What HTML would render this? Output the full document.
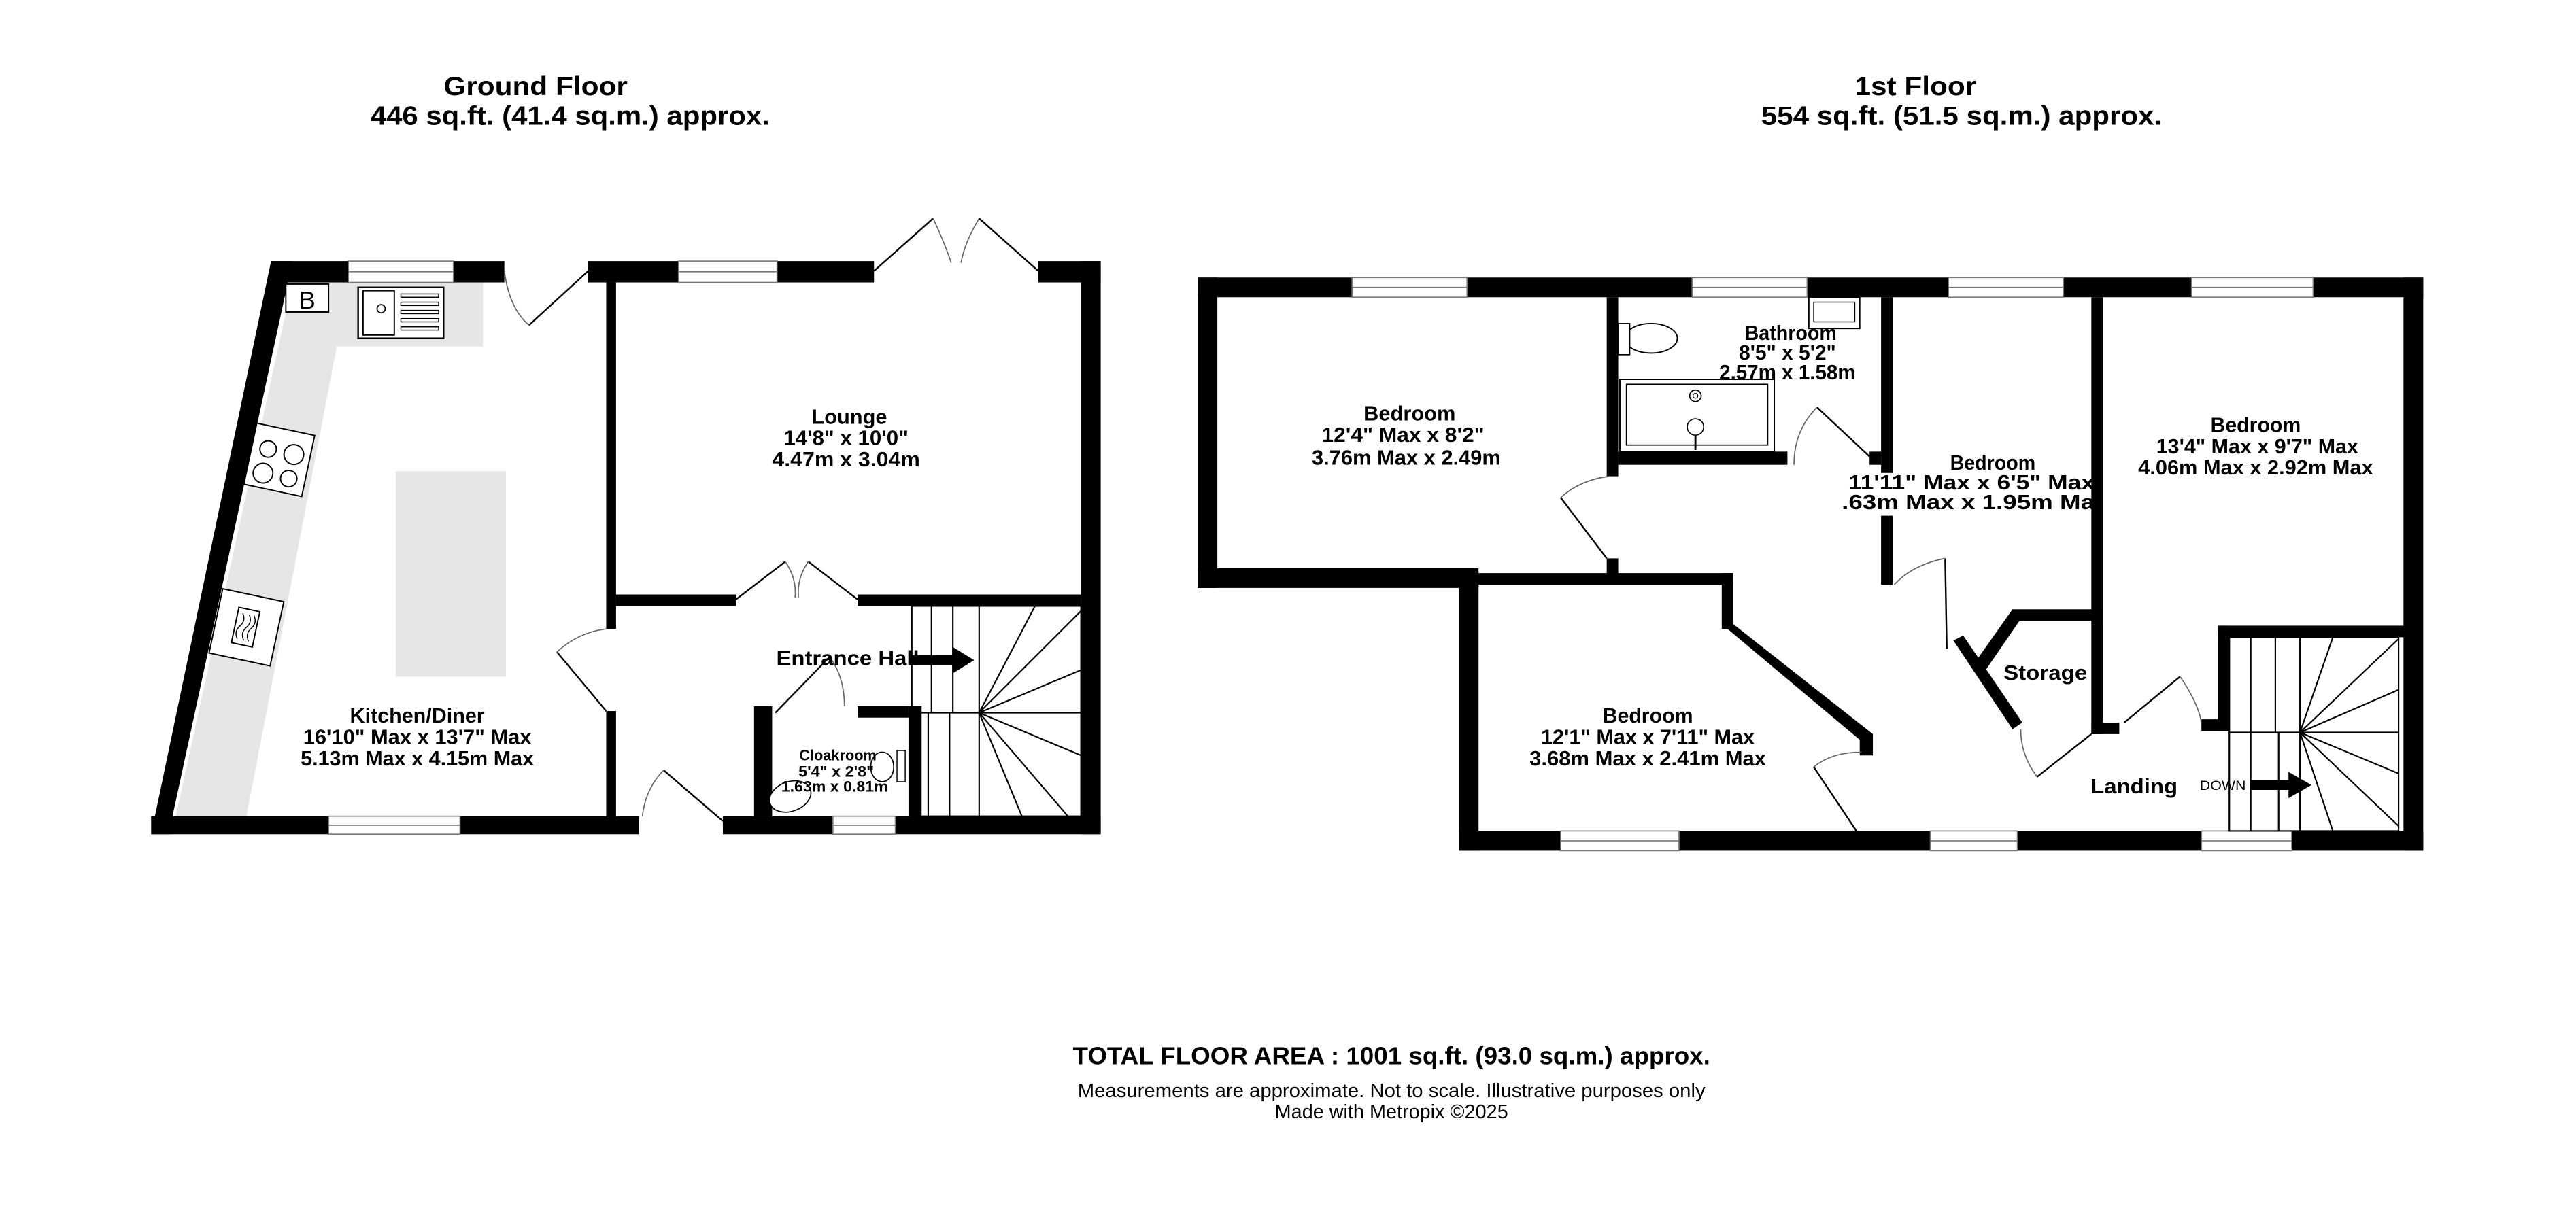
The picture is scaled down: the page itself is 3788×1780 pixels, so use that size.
<!DOCTYPE html>
<html><head><meta charset="utf-8"><style>
html,body{margin:0;padding:0;background:#fff;}
svg{display:block;}
text{font-family:"Liberation Sans",sans-serif;font-weight:bold;fill:#000;}
.n{font-weight:normal;}
</style></head><body>
<svg width="3788" height="1780" viewBox="0 0 1568 736.8" preserveAspectRatio="none" xmlns="http://www.w3.org/2000/svg">
<rect width="1568" height="737" fill="#fff"/>
<!-- Titles -->
<text x="326" y="58" font-size="16" text-anchor="middle" textLength="112" lengthAdjust="spacingAndGlyphs">Ground Floor</text>
<text x="347" y="76" font-size="16" text-anchor="middle" textLength="243" lengthAdjust="spacingAndGlyphs">446 sq.ft. (41.4 sq.m.) approx.</text>
<text x="1166" y="58" font-size="16" text-anchor="middle" textLength="74" lengthAdjust="spacingAndGlyphs">1st Floor</text>
<text x="1194" y="76" font-size="16" text-anchor="middle" textLength="244" lengthAdjust="spacingAndGlyphs">554 sq.ft. (51.5 sq.m.) approx.</text>

<!-- ============ GROUND FLOOR ============ -->
<polygon points="178,172 294,172 294,211 205,211 150,497 107,497" fill="#e6e6e6"/>
<rect x="241" y="287" width="67" height="125" fill="#e6e6e6"/>
<g fill="#000">
<polygon points="165,159 178,159 105,497 105,508 92,508"/>
<rect x="165" y="159" width="47" height="13"/>
<rect x="276" y="159" width="31" height="13"/>
<rect x="358" y="159" width="55" height="13"/>
<rect x="473" y="159" width="59" height="13"/>
<rect x="632" y="159" width="38" height="13"/>
<rect x="658" y="159" width="12" height="349"/>
<rect x="92" y="497" width="108" height="11"/>
<rect x="280" y="497" width="109" height="11"/>
<rect x="440" y="497" width="67" height="11"/>
<rect x="545" y="497" width="125" height="11"/>
<rect x="369" y="172" width="6" height="211"/>
<rect x="369" y="433" width="6" height="64"/>
<rect x="375" y="362" width="73" height="7"/>
<rect x="522" y="362" width="136" height="7"/>
<rect x="459" y="430" width="11" height="67"/>
<rect x="522" y="430" width="31" height="7"/>
<rect x="553" y="430" width="8" height="67"/>
</g>
<g fill="#fff" stroke="#777" stroke-width="0.7">
<rect x="212" y="159" width="64" height="13"/><line x1="212" y1="165.5" x2="276" y2="165.5"/>
<rect x="413" y="159" width="60" height="13"/><line x1="413" y1="165.5" x2="473" y2="165.5"/>
<rect x="200" y="497" width="80" height="11"/><line x1="200" y1="502.5" x2="280" y2="502.5"/>
<rect x="507" y="497" width="38" height="11"/><line x1="507" y1="502.5" x2="545" y2="502.5"/>
</g>
<g fill="none" stroke="#000" stroke-width="1">
<line x1="358" y1="165" x2="322" y2="198"/><path d="M307,165 Q310,188 322,198" stroke="#666" stroke-width="0.7"/>
<line x1="532" y1="165" x2="568" y2="133"/><path d="M568,133 Q575,148 579,160" stroke="#666" stroke-width="0.7"/>
<line x1="632" y1="165" x2="596" y2="133"/><path d="M596,133 Q587,148 585,160" stroke="#666" stroke-width="0.7"/>
<line x1="448" y1="365" x2="478" y2="342"/><path d="M478,342 Q485,352 484,364" stroke="#666" stroke-width="0.7"/>
<line x1="522" y1="365" x2="492" y2="342"/><path d="M492,342 Q485,352 486,364" stroke="#666" stroke-width="0.7"/>
<line x1="339" y1="397" x2="369" y2="433"/><path d="M339,397 Q352,385 369,383" stroke="#666" stroke-width="0.7"/>
<line x1="404" y1="469" x2="440" y2="500"/><path d="M404,469 Q393,480 391,497" stroke="#666" stroke-width="0.7"/>
<line x1="472" y1="434" x2="505" y2="400"/><path d="M505,400 Q514,412 514,430" stroke="#666" stroke-width="0.7"/>
</g>
<rect x="174" y="173" width="26" height="17" fill="#fff" stroke="#000" stroke-width="0.8"/>
<text x="187" y="188" font-size="15" text-anchor="middle" class="n">B</text>
<rect x="218" y="175" width="52" height="31" fill="#fff" stroke="#000" stroke-width="1"/>
<rect x="221" y="177" width="19" height="27" fill="none" stroke="#000" stroke-width="0.8"/>
<circle cx="232" cy="188" r="2.5" fill="none" stroke="#000" stroke-width="0.7"/>
<g fill="none" stroke="#000" stroke-width="0.6">
<rect x="244" y="179" width="23" height="2"/><rect x="244" y="184" width="23" height="2"/><rect x="244" y="189" width="23" height="2"/><rect x="244" y="194" width="23" height="2"/><rect x="244" y="199" width="23" height="2"/>
</g>
<g transform="translate(170,280) rotate(12)">
<rect x="-18" y="-19" width="36" height="38" fill="#fff" stroke="#000" stroke-width="0.8"/>
<circle cx="-8" cy="-5" r="5" fill="none" stroke="#000" stroke-width="0.8"/>
<circle cx="8" cy="-5" r="6" fill="none" stroke="#000" stroke-width="0.8"/>
<circle cx="-8" cy="10" r="6" fill="none" stroke="#000" stroke-width="0.8"/>
<circle cx="8" cy="10" r="5" fill="none" stroke="#000" stroke-width="0.8"/>
</g>
<g transform="translate(150,382) rotate(12)">
<rect x="-19" y="-20" width="38" height="40" fill="#fff" stroke="#000" stroke-width="0.8"/>
<rect x="-7" y="-11" width="13" height="22" fill="none" stroke="#000" stroke-width="0.8"/>
<path d="M-4,-8 q3,4 0,8 q-3,4 0,8 M0,-8 q3,4 0,8 q-3,4 0,8 M3,-8 q3,4 0,8 q-3,4 0,8" fill="none" stroke="#000" stroke-width="0.6"/>
</g>
<g fill="none" stroke="#000" stroke-width="0.9">
<rect x="555" y="369" width="103" height="128"/>
<line x1="555" y1="434" x2="658" y2="434"/>
<line x1="567" y1="369" x2="567" y2="434"/><line x1="580" y1="369" x2="580" y2="434"/><line x1="596" y1="369" x2="596" y2="497"/>
<line x1="565" y1="434" x2="565" y2="497"/><line x1="578" y1="434" x2="578" y2="497"/>
<line x1="596" y1="434" x2="630" y2="369"/><line x1="596" y1="434" x2="658" y2="372"/><line x1="596" y1="434" x2="658" y2="408"/>
<line x1="596" y1="434" x2="658" y2="460"/><line x1="596" y1="434" x2="650" y2="497"/><line x1="596" y1="434" x2="622" y2="497"/>
</g>
<polygon points="555,399 580,399 580,394 593,402 580,410 580,405 555,405" fill="#000"/>
<ellipse cx="481" cy="485" rx="13" ry="9" fill="#fff" stroke="#000" stroke-width="0.7" transform="rotate(-20 481 485)"/>
<ellipse cx="537" cy="467" rx="7" ry="9" fill="#fff" stroke="#000" stroke-width="0.7"/>
<rect x="546" y="457" width="5" height="19" fill="#fff" stroke="#000" stroke-width="0.6"/>
<g font-size="12.5" text-anchor="middle">
<text x="517" y="258" textLength="46" lengthAdjust="spacingAndGlyphs">Lounge</text>
<text x="515" y="271" textLength="76" lengthAdjust="spacingAndGlyphs">14'8"  x 10'0"</text>
<text x="515" y="284" textLength="90" lengthAdjust="spacingAndGlyphs">4.47m  x 3.04m</text>
<text x="254" y="440" textLength="82" lengthAdjust="spacingAndGlyphs">Kitchen/Diner</text>
<text x="254" y="453" textLength="139" lengthAdjust="spacingAndGlyphs">16'10" Max x 13'7" Max</text>
<text x="254" y="466" textLength="142" lengthAdjust="spacingAndGlyphs">5.13m Max x 4.15m Max</text>
<text x="516" y="405" textLength="87" lengthAdjust="spacingAndGlyphs">Entrance Hall</text>
</g>
<g font-size="9" text-anchor="middle">
<text x="510" y="463" textLength="47" lengthAdjust="spacingAndGlyphs">Cloakroom</text>
<text x="509" y="473" textLength="46" lengthAdjust="spacingAndGlyphs">5'4"  x 2'8"</text>
<text x="508" y="482" textLength="65" lengthAdjust="spacingAndGlyphs">1.63m  x 0.81m</text>
</g>

<!-- ============ FIRST FLOOR ============ -->
<g fill="#000">
<rect x="729" y="169" width="94" height="12"/>
<rect x="893" y="169" width="137" height="12"/>
<rect x="1100" y="169" width="86" height="12"/>
<rect x="1256" y="169" width="78" height="12"/>
<rect x="1408" y="169" width="67" height="12"/>
<rect x="729" y="169" width="12" height="189"/>
<rect x="729" y="346" width="171" height="12"/>
<rect x="888" y="349" width="167" height="7"/>
<rect x="888" y="349" width="12" height="169"/>
<rect x="888" y="506" width="62" height="12"/>
<rect x="1022" y="506" width="153" height="12"/>
<rect x="1228" y="506" width="112" height="12"/>
<rect x="1395" y="506" width="80" height="12"/>
<rect x="1463" y="169" width="12" height="349"/>
<rect x="978" y="181" width="7" height="109"/>
<rect x="978" y="340" width="7" height="10"/>
<rect x="985" y="275" width="103" height="8"/>
<rect x="1138" y="275" width="7" height="8"/>
<rect x="1145" y="181" width="7" height="175"/>
<rect x="1273" y="181" width="7" height="266"/>
<rect x="1273" y="440" width="17" height="7"/>
<rect x="1225" y="371" width="55" height="7"/>
<polygon points="1225,371 1232,374 1208,409 1201,405"/>
<polygon points="1189,390 1195,387 1231,440 1225,444"/>
<rect x="1048" y="349" width="7" height="34"/>
<polygon points="1048,380 1055,380 1140,447 1135,453"/>
<rect x="1132" y="447" width="8" height="13"/>
<rect x="1350" y="381" width="120" height="7"/>
<rect x="1350" y="381" width="7" height="64"/>
<rect x="1340" y="438" width="17" height="7"/>
</g>
<rect x="1124" y="288" width="30" height="26" fill="#fff"/>
<g fill="#fff" stroke="#777" stroke-width="0.7">
<rect x="823" y="169" width="70" height="12"/><line x1="823" y1="175" x2="893" y2="175"/>
<rect x="1030" y="169" width="70" height="12"/><line x1="1030" y1="175" x2="1100" y2="175"/>
<rect x="1186" y="169" width="70" height="12"/><line x1="1186" y1="175" x2="1256" y2="175"/>
<rect x="1334" y="169" width="74" height="12"/><line x1="1334" y1="175" x2="1408" y2="175"/>
<rect x="950" y="506" width="72" height="12"/><line x1="950" y1="512" x2="1022" y2="512"/>
<rect x="1175" y="506" width="53" height="12"/><line x1="1175" y1="512" x2="1228" y2="512"/>
<rect x="1340" y="506" width="55" height="12"/><line x1="1340" y1="512" x2="1395" y2="512"/>
</g>
<g fill="none" stroke="#000" stroke-width="1">
<line x1="950" y1="303" x2="978" y2="340"/><path d="M950,303 Q962,292 980,290" stroke="#666" stroke-width="0.7"/>
<line x1="1106" y1="248" x2="1138" y2="278"/><path d="M1106,248 Q1092,262 1092,283" stroke="#666" stroke-width="0.7"/>
<line x1="1184" y1="340" x2="1185" y2="395"/><path d="M1184,340 Q1164,344 1153,356" stroke="#666" stroke-width="0.7"/>
<line x1="1104" y1="467" x2="1130" y2="506"/><path d="M1104,467 Q1115,458 1133,458" stroke="#666" stroke-width="0.7"/>
<line x1="1240" y1="473" x2="1273" y2="447"/><path d="M1240,473 Q1230,460 1230,444" stroke="#666" stroke-width="0.7"/>
<line x1="1293" y1="440" x2="1327" y2="412"/><path d="M1327,412 Q1338,428 1340,440" stroke="#666" stroke-width="0.7"/>
</g>
<rect x="1101" y="181" width="31" height="19" fill="#fff" stroke="#000" stroke-width="0.8"/>
<rect x="1104" y="184" width="25" height="12" fill="none" stroke="#000" stroke-width="0.6"/>
<ellipse cx="1005" cy="206" rx="16" ry="9" fill="#fff" stroke="#000" stroke-width="0.8"/>
<rect x="985" y="197" width="7" height="19" fill="#fff" stroke="#000" stroke-width="0.7"/>
<rect x="986" y="231" width="94" height="44" fill="#fff" stroke="#000" stroke-width="0.8"/>
<rect x="990" y="234" width="86" height="37" fill="none" stroke="#000" stroke-width="0.7"/>
<circle cx="1032" cy="241" r="3.5" fill="none" stroke="#000" stroke-width="0.7"/>
<circle cx="1032" cy="241" r="1.5" fill="none" stroke="#000" stroke-width="0.5"/>
<circle cx="1032" cy="260" r="5" fill="#fff" stroke="#000" stroke-width="0.7"/>
<line x1="1032" y1="265" x2="1032" y2="274" stroke="#000" stroke-width="1.2"/>
<g fill="none" stroke="#000" stroke-width="0.9">
<rect x="1357" y="388" width="103" height="118"/>
<line x1="1357" y1="446" x2="1460" y2="446"/>
<line x1="1370" y1="388" x2="1370" y2="446"/><line x1="1385" y1="388" x2="1385" y2="446"/><line x1="1400" y1="388" x2="1400" y2="506"/>
<line x1="1370" y1="446" x2="1370" y2="506"/><line x1="1387" y1="446" x2="1387" y2="506"/>
<line x1="1400" y1="446" x2="1420" y2="388"/><line x1="1400" y1="446" x2="1460" y2="389"/><line x1="1400" y1="446" x2="1460" y2="420"/>
<line x1="1400" y1="446" x2="1460" y2="471"/><line x1="1400" y1="446" x2="1460" y2="503"/><line x1="1400" y1="446" x2="1420" y2="506"/>
</g>
<polygon points="1370,475 1393,475 1393,470 1407,478 1393,486 1393,481 1370,481" fill="#000"/>
<g font-size="12.5" text-anchor="middle">
<text x="858" y="256" textLength="56" lengthAdjust="spacingAndGlyphs">Bedroom</text>
<text x="854" y="269" textLength="99" lengthAdjust="spacingAndGlyphs">12'4" Max x 8'2"</text>
<text x="856" y="283" textLength="115" lengthAdjust="spacingAndGlyphs">3.76m Max x 2.49m</text>
<text x="1090" y="207" textLength="56" lengthAdjust="spacingAndGlyphs">Bathroom</text>
<text x="1088" y="219" textLength="59" lengthAdjust="spacingAndGlyphs">8'5"  x 5'2"</text>
<text x="1088" y="231" textLength="83" lengthAdjust="spacingAndGlyphs">2.57m  x 1.58m</text>
<text x="1213" y="286" textLength="52" lengthAdjust="spacingAndGlyphs">Bedroom</text>
<text x="1200" y="298" textLength="150" lengthAdjust="spacingAndGlyphs">11'11" Max x 6'5" Max</text>
<text x="1198" y="310" textLength="154" lengthAdjust="spacingAndGlyphs">.63m Max x 1.95m Ma</text>
<text x="1373" y="263" textLength="55" lengthAdjust="spacingAndGlyphs">Bedroom</text>
<text x="1374" y="276" textLength="123" lengthAdjust="spacingAndGlyphs">13'4" Max x 9'7" Max</text>
<text x="1373" y="289" textLength="143" lengthAdjust="spacingAndGlyphs">4.06m Max x 2.92m Max</text>
<text x="1003" y="440" textLength="55" lengthAdjust="spacingAndGlyphs">Bedroom</text>
<text x="1003" y="453" textLength="130" lengthAdjust="spacingAndGlyphs">12'1" Max x 7'11" Max</text>
<text x="1003" y="466" textLength="144" lengthAdjust="spacingAndGlyphs">3.68m Max x 2.41m Max</text>
<text x="1245" y="414" textLength="51" lengthAdjust="spacingAndGlyphs">Storage</text>
<text x="1299" y="483" textLength="53" lengthAdjust="spacingAndGlyphs">Landing</text>
</g>
<text x="1353" y="481" font-size="8" text-anchor="middle" class="n" textLength="28" lengthAdjust="spacingAndGlyphs">DOWN</text>

<text x="847" y="648" font-size="15" text-anchor="middle" textLength="388" lengthAdjust="spacingAndGlyphs">TOTAL FLOOR AREA : 1001 sq.ft. (93.0 sq.m.) approx.</text>
<text x="847" y="668" font-size="12" text-anchor="middle" class="n" textLength="382" lengthAdjust="spacingAndGlyphs">Measurements are approximate.  Not to scale.  Illustrative purposes only</text>
<text x="847" y="681" font-size="12" text-anchor="middle" class="n" textLength="142" lengthAdjust="spacingAndGlyphs">Made with Metropix ©2025</text>
</svg>
</body></html>
